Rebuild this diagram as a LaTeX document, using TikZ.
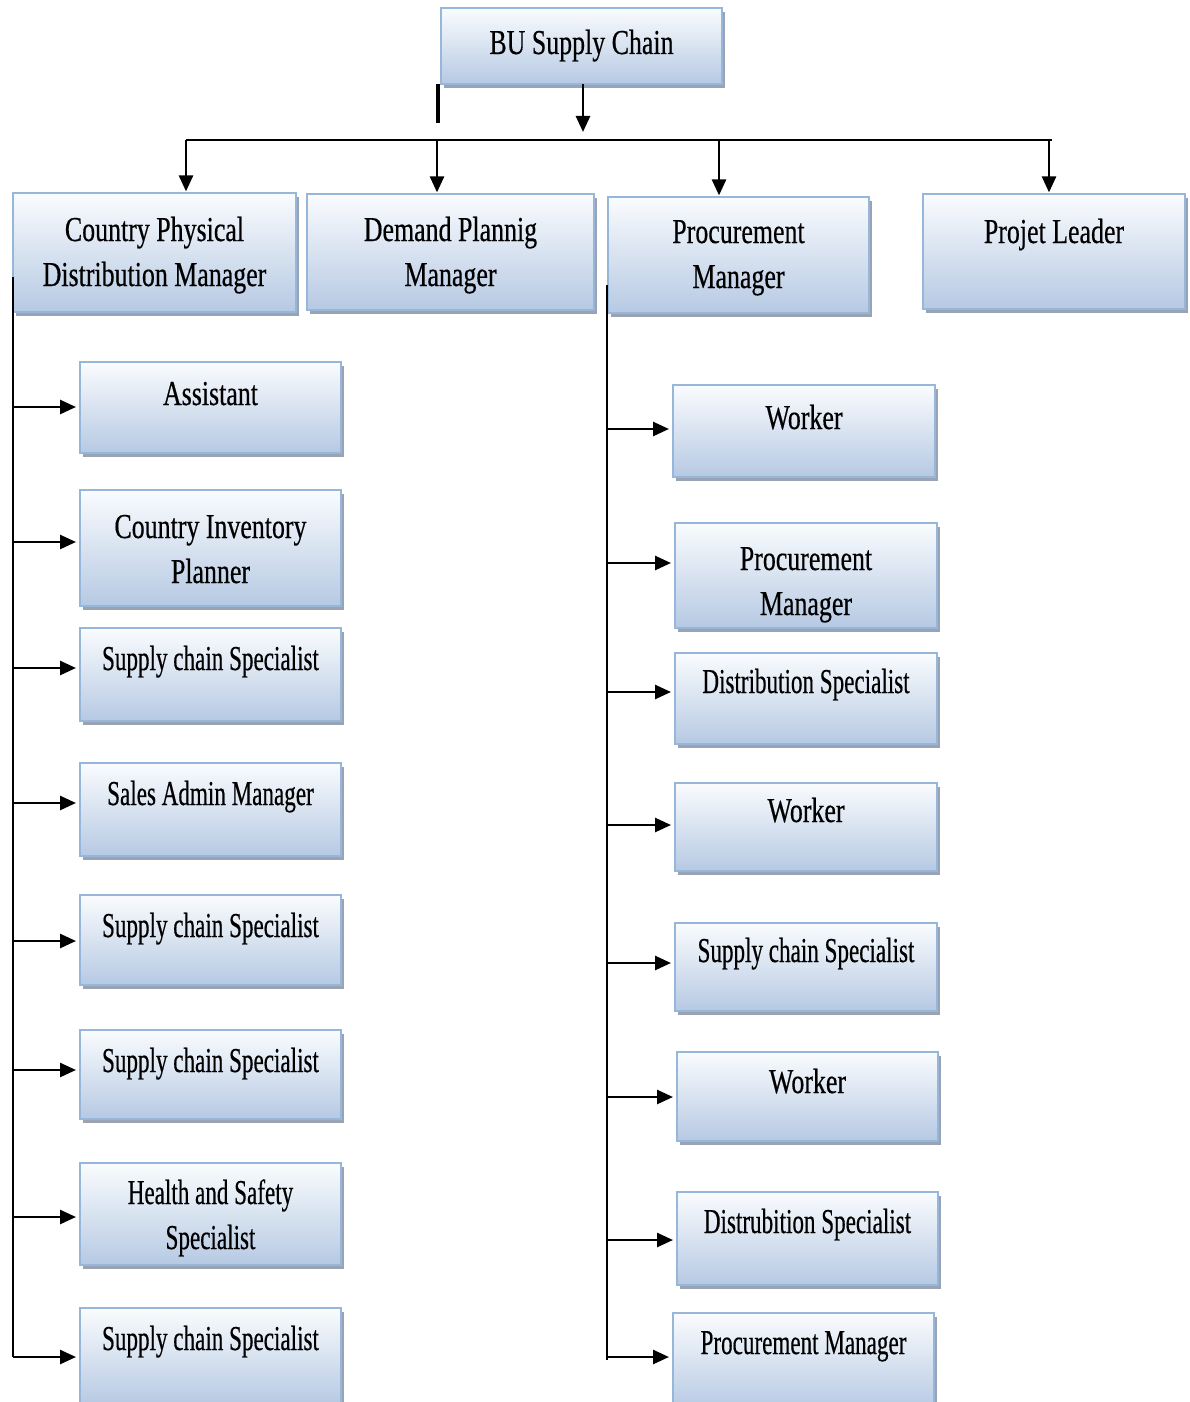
\documentclass[tikz,border=0pt]{standalone}
\usepackage{fontspec}
\setmainfont{Liberation Serif}
\newfontfamily\wideface[FakeStretch=0.74,FakeBold=0.4]{Liberation Serif}
\newfontfamily\narrowface[FakeStretch=0.66,FakeBold=0.4]{Liberation Serif}
\usetikzlibrary{arrows.meta,shadows}

\definecolor{boxtop}{RGB}{250,252,254}
\definecolor{boxbot}{RGB}{182,201,227}
\definecolor{boxline}{RGB}{150,182,218}
\definecolor{boxshade}{RGB}{136,148,166}

\tikzset{
  orgbox/.style={rectangle, draw=boxline, line width=0.8pt,
    top color=boxtop, bottom color=boxbot, inner sep=0pt, outer sep=0pt,
    drop shadow={shadow xshift=1.6pt, shadow yshift=-2pt, fill=boxshade, opacity=0.85}},
  lblwide/.style={anchor=base, inner sep=0pt, font=\wideface\fontsize{17.5}{22.5}\selectfont},
  lblnarrow/.style={anchor=base, inner sep=0pt, font=\narrowface\fontsize{17.5}{22.5}\selectfont},
  feed/.style={line width=1.3pt, -{Triangle[length=8pt,width=7pt]}},
  trunk/.style={line width=0.8pt},
  bus/.style={line width=1pt},
  stub/.style={line width=1.6pt},
}

% box from its corners, in pixel units (x1,y1,x2,y2)
\newcommand\placebox[5]{%
  \node[orgbox, minimum width={(#4-#2)*0.5pt}, minimum height={(#5-#3)*0.5pt}]
    (#1) at ({(#2+#4)/2},{(#3+#5)/2}) {};}
\newcommand\twolines[2]{\begin{tabular}[t]{@{}c@{}}#1\\#2\end{tabular}}

\begin{document}
\begin{tikzpicture}[x=0.5pt, y=-0.5pt]
\clip (0,0) rectangle (1189,1402);
\fill[white] (0,0) rectangle (1189,1402);

% top of the chart
\placebox{bu}{441}{8}{722}{84}
\node[lblwide] (bu-t) at (bu.center |- 0,54) {BU Supply Chain};

% second level
\placebox{cpdm}{13}{193}{296}{312}
\placebox{dpm}{307}{194}{594}{310}
\placebox{pm}{608}{197}{869}{313}
\placebox{pl}{923}{194}{1185}{309}
\node[lblwide] (cpdm-t) at (cpdm.center |- 0,241) {\twolines{Country Physical}{Distribution Manager}};
\node[lblwide] (dpm-t) at (dpm.center |- 0,241) {\twolines{Demand Plannig}{Manager}};
\node[lblwide] (pm-t) at (pm.center |- 0,243) {\twolines{Procurement}{Manager}};
\node[lblwide] (pl-t) at (pl.center |- 0,243) {Projet Leader};

% staff under the physical distribution manager
\placebox{a1}{80}{362}{341}{453}
\placebox{a2}{80}{490}{341}{606}
\placebox{a3}{80}{628}{341}{721}
\placebox{a4}{80}{763}{341}{856}
\placebox{a5}{80}{895}{341}{985}
\placebox{a6}{80}{1030}{341}{1119}
\placebox{a7}{80}{1163}{341}{1265}
\placebox{a8}{80}{1308}{341}{1405}
\node[lblwide]   (a1-t) at (a1.center |- 0,405) {Assistant};
\node[lblwide]   (a2-t) at (a2.center |- 0,538) {\twolines{Country Inventory}{Planner}};
\node[lblnarrow] (a3-t) at (a3.center |- 0,670) {Supply chain Specialist};
\node[lblnarrow] (a4-t) at (a4.center |- 0,805) {Sales Admin Manager};
\node[lblnarrow] (a5-t) at (a5.center |- 0,937) {Supply chain Specialist};
\node[lblnarrow] (a6-t) at (a6.center |- 0,1072) {Supply chain Specialist};
\node[lblnarrow] (a7-t) at (a7.center |- 0,1204) {\twolines{Health and Safety}{Specialist}};
\node[lblnarrow] (a8-t) at (a8.center |- 0,1350) {Supply chain Specialist};

% staff under the procurement manager
\placebox{b1}{673}{385}{935}{477}
\placebox{b2}{675}{523}{937}{628}
\placebox{b3}{675}{653}{937}{744}
\placebox{b4}{675}{783}{937}{871}
\placebox{b5}{675}{923}{937}{1011}
\placebox{b6}{677}{1052}{938}{1141}
\placebox{b7}{677}{1192}{938}{1285}
\placebox{b8}{673}{1313}{934}{1410}
\node[lblwide]   (b1-t) at (b1.center |- 0,429) {Worker};
\node[lblwide]   (b2-t) at (b2.center |- 0,570) {\twolines{Procurement}{Manager}};
\node[lblnarrow] (b3-t) at (b3.center |- 0,693) {Distribution Specialist};
\node[lblwide]   (b4-t) at (b4.center |- 0,822) {Worker};
\node[lblnarrow] (b5-t) at (b5.center |- 0,962) {Supply chain Specialist};
\node[lblwide]   (b6-t) at (b6.center |- 0,1093) {Worker};
\node[lblnarrow] (b7-t) at (b7.center |- 0,1233) {Distrubition Specialist};
\node[lblnarrow] (b8-t) at (b8.center |- 0,1354) {Procurement Manager};

% connectors from the top box to the bus
\coordinate (busL) at (186,140);
\coordinate (busR) at (1052,140);
\coordinate (hub) at (583,132);
\coordinate (stubEnd) at (438,123);
\draw[feed] (bu.south -| hub) -- (hub);
\draw[stub] (bu.south -| stubEnd) -- (stubEnd);
\draw[bus] (busL) -- (busR);

% drops to the second level
\coordinate (d1) at (186,140);
\coordinate (d2) at (437,140);
\coordinate (d3) at (719,140);
\coordinate (d4) at (1049,140);
\draw[feed, shorten >=0.8pt] (d1) -- (d1 |- cpdm.north);
\draw[feed, shorten >=0.8pt] (d2) -- (d2 |- dpm.north);
\draw[feed, shorten >=0.8pt] (d3) -- (d3 |- pm.north);
\draw[feed, shorten >=0.8pt] (d4) -- (d4 |- pl.north);

% left trunk and its feeds
\coordinate (lTop) at (13,277);
\coordinate (lBot) at (13,1357);
\draw[trunk] (lTop) -- (lBot);
\foreach \n/\y in {a1/407, a2/542, a3/668, a4/803, a5/941, a6/1070, a7/1217, a8/1357}
  \draw[feed, shorten >=2pt] (13,\y) -- (\n.west |- 0,\y);

% right trunk and its feeds
\coordinate (rTop) at (607,285);
\coordinate (rBot) at (607,1360);
\draw[trunk] (rTop) -- (rBot);
\foreach \n/\y in {b1/429, b2/563, b3/692, b4/825, b5/963, b6/1097, b7/1240, b8/1357}
  \draw[feed, shorten >=2pt] (607,\y) -- (\n.west |- 0,\y);
\end{tikzpicture}
\end{document}
